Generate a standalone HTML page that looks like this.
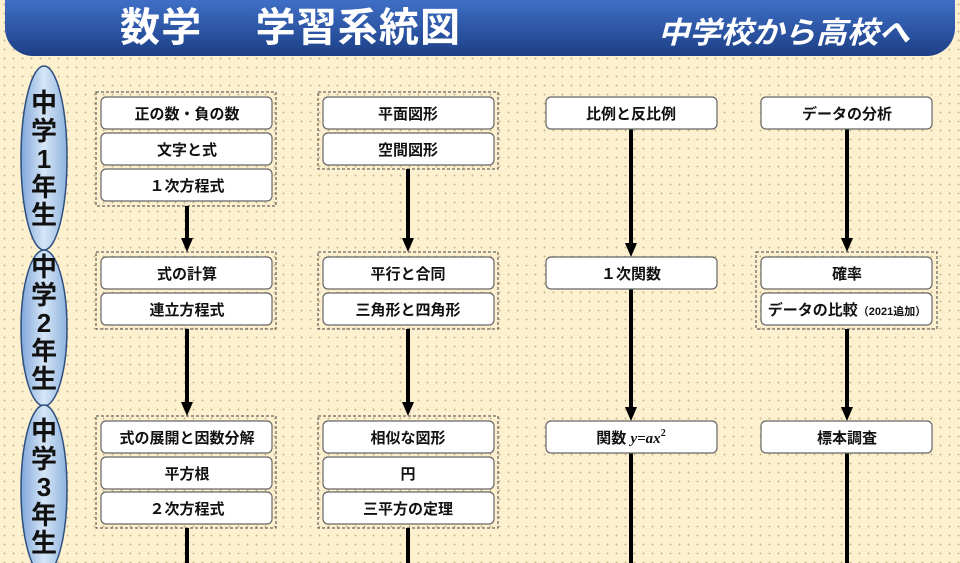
<!DOCTYPE html>
<html><head><meta charset="utf-8"><style>
html,body{margin:0;padding:0;width:960px;height:563px;overflow:hidden}
body{background-color:#fdf0cf;background-image:radial-gradient(#c9b98e 0.8px,transparent 1px);background-size:9px 9px}
svg{position:absolute;left:0;top:0}
text{font-family:"Liberation Sans","Noto Sans CJK JP",sans-serif}
</style></head><body>
<svg width="960" height="563" viewBox="0 0 960 563">
<defs>
<linearGradient id="hd" x1="0" y1="0" x2="0" y2="1"><stop offset="0" stop-color="#3f6fc6"/><stop offset="1" stop-color="#1d3f86"/></linearGradient>
<linearGradient id="el" x1="0" y1="0" x2="1" y2="0"><stop offset="0" stop-color="#7fa7d9"/><stop offset="0.5" stop-color="#d6e6f7"/><stop offset="1" stop-color="#8fb3de"/></linearGradient>
</defs>
<path d="M5 0 H955 V28 A28 28 0 0 1 927 56 H33 A28 28 0 0 1 5 28 Z" fill="url(#hd)"/>
<text x="120" y="41" font-size="40" font-weight="bold" fill="#fff" textLength="340" lengthAdjust="spacing">数学　 学習系統図</text>
<text x="658" y="43" font-size="30" font-weight="bold" font-style="italic" fill="#fff" textLength="252" lengthAdjust="spacingAndGlyphs">中学校から高校へ</text>

<g fill="url(#el)" stroke="#2d4f7f" stroke-width="1.5">
<ellipse cx="44" cy="158" rx="23" ry="92"/>
<ellipse cx="44" cy="328" rx="23" ry="78"/>
<ellipse cx="44" cy="490" rx="23" ry="85"/>
</g>
<g font-size="26" font-weight="bold" fill="#111" text-anchor="middle">
<text x="44" y="112">中</text><text x="44" y="140">学</text><text x="44" y="168">1</text><text x="44" y="196">年</text><text x="44" y="224">生</text>
<text x="44" y="276">中</text><text x="44" y="304">学</text><text x="44" y="332">2</text><text x="44" y="360">年</text><text x="44" y="388">生</text>
<text x="44" y="440">中</text><text x="44" y="468">学</text><text x="44" y="496">3</text><text x="44" y="524">年</text><text x="44" y="552">生</text>
</g>

<g fill="none" stroke="#444" stroke-width="1" stroke-dasharray="3,2">
<rect x="96" y="92" width="180" height="114"/>
<rect x="96" y="252" width="180" height="77"/>
<rect x="96" y="416" width="180" height="112"/>
<rect x="318" y="92" width="180" height="77"/>
<rect x="318" y="252" width="180" height="77"/>
<rect x="318" y="416" width="180" height="112"/>
<rect x="756" y="252" width="181" height="77"/>
</g>

<g stroke="#000" stroke-width="4">
<line x1="187" y1="206" x2="187" y2="240"/><line x1="187" y1="329" x2="187" y2="404"/><line x1="187" y1="528" x2="187" y2="563"/>
<line x1="408" y1="169" x2="408" y2="240"/><line x1="408" y1="329" x2="408" y2="404"/><line x1="408" y1="528" x2="408" y2="563"/>
<line x1="631" y1="129" x2="631" y2="245"/><line x1="631" y1="289" x2="631" y2="409"/><line x1="631" y1="453" x2="631" y2="563"/>
<line x1="847" y1="129" x2="847" y2="240"/><line x1="847" y1="329" x2="847" y2="409"/><line x1="847" y1="453" x2="847" y2="563"/>
</g>
<g fill="#000">
<path d="M181 238 H193 L187 252 Z"/><path d="M181 402 H193 L187 416 Z"/>
<path d="M402 238 H414 L408 252 Z"/><path d="M402 402 H414 L408 416 Z"/>
<path d="M625 243 H637 L631 257 Z"/><path d="M625 407 H637 L631 421 Z"/>
<path d="M841 238 H853 L847 252 Z"/><path d="M841 407 H853 L847 421 Z"/>
</g>

<g fill="#fff" stroke="#666" stroke-width="1.2">
<rect x="101" y="97" width="171" height="32" rx="5"/><rect x="101" y="133" width="171" height="32" rx="5"/><rect x="101" y="169" width="171" height="32" rx="5"/>
<rect x="101" y="257" width="171" height="32" rx="5"/><rect x="101" y="293" width="171" height="32" rx="5"/>
<rect x="101" y="421" width="171" height="32" rx="5"/><rect x="101" y="457" width="171" height="32" rx="5"/><rect x="101" y="492" width="171" height="32" rx="5"/>
<rect x="323" y="97" width="171" height="32" rx="5"/><rect x="323" y="133" width="171" height="32" rx="5"/>
<rect x="323" y="257" width="171" height="32" rx="5"/><rect x="323" y="293" width="171" height="32" rx="5"/>
<rect x="323" y="421" width="171" height="32" rx="5"/><rect x="323" y="457" width="171" height="32" rx="5"/><rect x="323" y="492" width="171" height="32" rx="5"/>
<rect x="546" y="97" width="171" height="32" rx="5"/><rect x="546" y="257" width="171" height="32" rx="5"/><rect x="546" y="421" width="171" height="32" rx="5"/>
<rect x="761" y="97" width="171" height="32" rx="5"/><rect x="761" y="257" width="171" height="32" rx="5"/><rect x="761" y="293" width="171" height="32" rx="5"/><rect x="761" y="421" width="171" height="32" rx="5"/>
</g>
<g font-size="15" font-weight="bold" fill="#111" text-anchor="middle">
<text x="187" y="119">正の数・負の数</text><text x="187" y="155">文字と式</text><text x="187" y="191">１次方程式</text>
<text x="187" y="279">式の計算</text><text x="187" y="315">連立方程式</text>
<text x="187" y="443">式の展開と因数分解</text><text x="187" y="479">平方根</text><text x="187" y="514">２次方程式</text>
<text x="408" y="119">平面図形</text><text x="408" y="155">空間図形</text>
<text x="408" y="279">平行と合同</text><text x="408" y="315">三角形と四角形</text>
<text x="408" y="443">相似な図形</text><text x="408" y="479">円</text><text x="408" y="514">三平方の定理</text>
<text x="631" y="119">比例と反比例</text><text x="631" y="279">１次関数</text>
<text x="631" y="443">関数 <tspan font-family="Liberation Serif,serif" font-style="italic" font-weight="bold">y=ax</tspan><tspan font-family="Liberation Serif,serif" font-weight="bold" font-size="10" dy="-7">2</tspan></text>
<text x="847" y="119">データの分析</text><text x="847" y="279">確率</text>
<text x="847" y="315">データの比較<tspan font-size="11">（2021追加）</tspan></text>
<text x="847" y="443">標本調査</text>
</g>
</svg>
</body></html>
